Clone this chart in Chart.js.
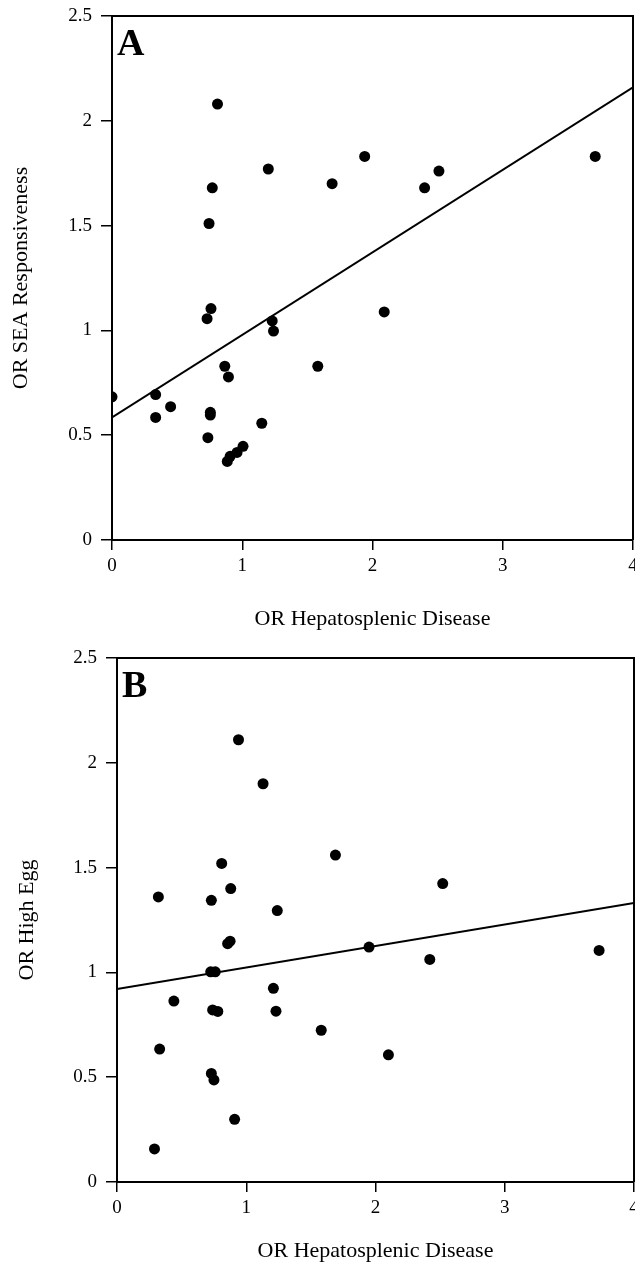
<!DOCTYPE html>
<html>
<head>
<meta charset="utf-8">
<script src="https://cdn.jsdelivr.net/npm/chart.js@4.4.0/dist/chart.umd.min.js"></script>
<style>
  html, body { margin: 0; padding: 0; background: #fff; }
  canvas { display: block; }
</style>
</head>
<body>
<canvas id="panelA" width="635" height="632"></canvas>
<canvas id="panelB" width="635" height="632"></canvas>
<script>
// panel A: OR hepatosplenic disease vs OR SEA responsiveness
const hepA = [0.00, 0.335, 0.335, 0.45, 0.73, 0.736, 0.745, 0.755, 0.755, 0.76, 0.77, 0.81, 0.866, 0.885, 0.894, 0.907, 0.96, 1.006, 1.15, 1.20, 1.23, 1.24, 1.58, 1.69, 1.94, 2.09, 2.40, 2.51, 3.71];
const seaA = [0.683, 0.694, 0.585, 0.636, 1.056, 0.488, 1.51, 0.609, 0.596, 1.104, 1.68, 2.08, 0.829, 0.375, 0.778, 0.399, 0.418, 0.447, 0.557, 1.77, 1.045, 0.997, 0.829, 1.70, 1.83, 1.088, 1.68, 1.76, 1.83];
const fitAx = [0, 4];
const fitAy = [0.585, 2.16];

// panel B: OR hepatosplenic disease vs OR high egg
const hepB = [0.29, 0.32, 0.33, 0.44, 0.725, 0.73, 0.73, 0.74, 0.75, 0.76, 0.78, 0.81, 0.856, 0.875, 0.88, 0.91, 0.94, 1.13, 1.21, 1.23, 1.24, 1.58, 1.69, 1.95, 2.10, 2.42, 2.52, 3.73];
const eggB = [0.158, 1.36, 0.634, 0.863, 1.003, 1.344, 0.518, 0.821, 0.487, 1.003, 0.814, 1.52, 1.137, 1.149, 1.40, 0.299, 2.11, 1.90, 0.924, 0.815, 1.295, 0.724, 1.56, 1.121, 0.607, 1.062, 1.424, 1.105];
const fitBx = [0, 4];
const fitBy = [0.921, 1.331];

const xTicks = [0, 1, 2, 3, 4];
const xTickLabels = ['0', '1', '2', '3', '4'];
const yTicks = [0, 0.5, 1, 1.5, 2, 2.5];
const yTickLabels = ['0', '0.5', '1', '1.5', '2', '2.5'];

const serif = "'Liberation Serif', 'Times New Roman', serif";

// box on top/right plus panel letter
const frame = {
  id: 'frame',
  afterDraw(chart, args, opts) {
    const { ctx, chartArea: a } = chart;
    ctx.save();
    ctx.strokeStyle = '#000';
    ctx.lineWidth = 2;
    ctx.beginPath();
    ctx.moveTo(a.left, a.top);
    ctx.lineTo(a.right, a.top);
    ctx.lineTo(a.right, a.bottom);
    ctx.stroke();
    ctx.fillStyle = '#000';
    ctx.font = 'bold 38px ' + serif;
    ctx.textBaseline = 'alphabetic';
    ctx.fillText(opts.letter, a.left + 5, a.top + 39);
    ctx.restore();
  }
};

// no automatic padding for edge labels, so the plot box lands where we want it
const noPad = s => { s.paddingLeft = 0; s.paddingRight = 0; s.paddingTop = 0; s.paddingBottom = 0; };

function makePanel(id, letter, xs, ys, fx, fy, yTitle, yw, top, right, yTitlePad) {
  const pts = xs.map((x, i) => ({ x: x, y: ys[i] }));
  const line = fx.map((x, i) => ({ x: x, y: fy[i] }));
  return new Chart(document.getElementById(id), {
    type: 'scatter',
    data: {
      datasets: [
        { data: line, showLine: true, borderColor: '#000', borderWidth: 2, pointRadius: 0, fill: false },
        { data: pts, backgroundColor: '#000', borderColor: '#000', pointRadius: 5.5, borderWidth: 0 }
      ]
    },
    options: {
      responsive: false,
      animation: false,
      layout: { autoPadding: false, padding: { top: top, right: right, left: 0, bottom: 0 } },
      plugins: { legend: { display: false }, tooltip: { enabled: false }, frame: { letter: letter } },
      scales: {
        x: {
          type: 'linear', min: 0, max: 4,
          afterBuildTicks: s => { s.ticks = xTicks.map(v => ({ value: v })); },
          afterFit: s => { s.height = 632 - (top + 524); noPad(s); },
          grid: { drawOnChartArea: false, drawTicks: true, tickLength: 10, color: '#000', lineWidth: 1.5 },
          border: { display: true, color: '#000', width: 2 },
          ticks: {
            color: '#000', padding: 5, maxRotation: 0, font: { family: serif, size: 19 },
            callback: v => xTickLabels[xTicks.indexOf(v)]
          },
          title: { display: true, text: 'OR Hepatosplenic Disease', color: '#000', font: { family: serif, size: 22 }, padding: { top: 0, bottom: 0 } }
        },
        y: {
          type: 'linear', min: 0, max: 2.5,
          afterBuildTicks: s => { s.ticks = yTicks.map(v => ({ value: v })); },
          afterFit: s => { s.width = yw; noPad(s); },
          grid: { drawOnChartArea: false, drawTicks: true, tickLength: 11, color: '#000', lineWidth: 1.5 },
          border: { display: true, color: '#000', width: 2 },
          ticks: {
            color: '#000', padding: 9, font: { family: serif, size: 19 },
            callback: v => yTickLabels[yTicks.indexOf(v)]
          },
          title: { display: true, text: yTitle, color: '#000', font: { family: serif, size: 22 }, padding: { top: yTitlePad, bottom: 0 } }
        }
      }
    },
    plugins: [frame]
  });
}

makePanel('panelA', 'A', hepA, seaA, fitAx, fitAy, 'OR SEA Responsiveness', 112, 16, 2, 8);
makePanel('panelB', 'B', hepB, eggB, fitBx, fitBy, 'OR High Egg', 117, 26, 1, 14);
</script>
</body>
</html>
